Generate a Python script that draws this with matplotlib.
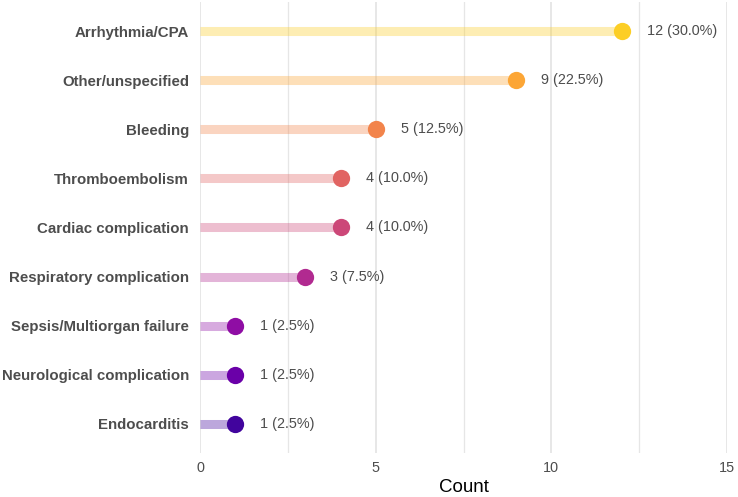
import matplotlib
matplotlib.use("Agg")
import matplotlib.pyplot as plt
import numpy as np

categories = ["Arrhythmia/CPA", "Other/unspecified", "Bleeding", "Thromboembolism",
              "Cardiac complication", "Respiratory complication",
              "Sepsis/Multiorgan failure", "Neurological complication", "Endocarditis"]
counts = [12, 9, 5, 4, 4, 3, 1, 1, 1]
labels = ["12 (30.0%)", "9 (22.5%)", "5 (12.5%)", "4 (10.0%)", "4 (10.0%)",
          "3 (7.5%)", "1 (2.5%)", "1 (2.5%)", "1 (2.5%)"]

plt.rcParams["font.family"] = ["Liberation Sans", "DejaVu Sans"]

fig = plt.figure(figsize=(7.38, 4.97), dpi=100)
ax = fig.add_axes([200 / 738, 1 - 453 / 497, 527 / 738, 451 / 497])

n = len(categories)
ypos = np.arange(n)[::-1]
cols = plt.cm.plasma(np.linspace(0.9, 0.1, n))

for y, c, col, lab in zip(ypos, counts, cols, labels):
    ax.plot([0, c], [y, y], color=col, alpha=0.35, lw=6.5, solid_capstyle="butt", zorder=2)
    ax.scatter([c], [y], color=col, s=155, zorder=3, clip_on=False, linewidths=0)
    ax.annotate(lab, (c, y), xytext=(18, 0), textcoords="offset points",
                ha="left", va="center", fontsize=10.4, color="#4D4D4D")

ax.set_xlim(0, 15)
ax.set_ylim(-0.6, n - 0.4)
ax.set_xticks([0, 5, 10, 15])
ax.set_xticks([2.5, 7.5, 12.5], minor=True)
ax.set_yticks(ypos)
ax.set_yticklabels(categories, fontsize=10.8, fontweight="bold", color="#4D4D4D")
ax.tick_params(axis="x", which="both", length=0, labelsize=10.4, labelcolor="#4D4D4D", pad=6)
ax.tick_params(axis="y", length=0, pad=8)
ax.grid(axis="x", which="major", color="#E0E0E0", lw=1.1, zorder=0)
ax.grid(axis="x", which="minor", color="#E6E6E6", lw=0.9, zorder=0)
ax.set_axisbelow(True)
for s in ax.spines.values():
    s.set_visible(False)
ax.set_xlabel("Count", fontsize=13.5, color="black", labelpad=3)

fig.savefig("out.png", dpi=100)
